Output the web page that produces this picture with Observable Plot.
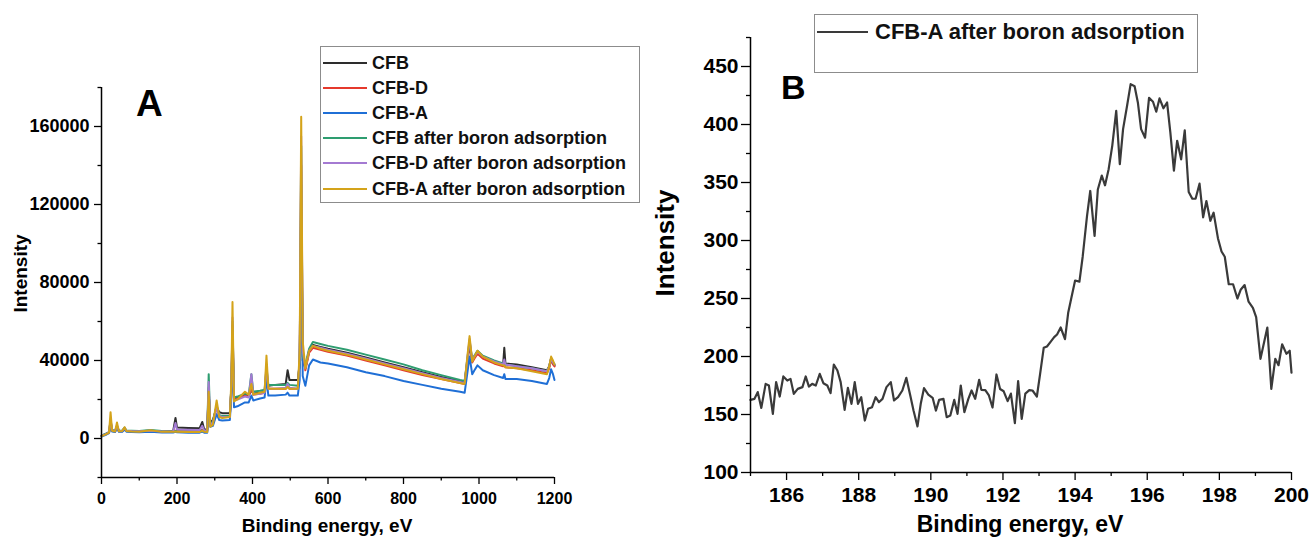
<!DOCTYPE html>
<html><head><meta charset="utf-8">
<script src="https://cdn.jsdelivr.net/npm/d3@7"></script>
<script src="https://cdn.jsdelivr.net/npm/@observablehq/plot@0.6"></script>
<style>
html,body{margin:0;padding:0;background:#fff;overflow:hidden;}
body{font-family:"Liberation Sans",Arial,sans-serif;}
#wrap{position:relative;width:1312px;height:539px;overflow:hidden;}
.panel{position:absolute;top:0;}
.legend{position:absolute;border:1px solid #8c8c8c;background:#fff;box-sizing:border-box;}
.sw{position:absolute;height:2px;}
.lt{position:absolute;font-weight:bold;color:#111;white-space:nowrap;}
.big{position:absolute;font-weight:bold;color:#000;line-height:1;}
</style></head>
<body>
<div id="wrap">
  <div id="pA" class="panel" style="left:0"></div>
  <div id="pB" class="panel" style="left:640px"></div>
  <div class="big" style="left:136px;top:85px;font-size:37px">A</div>
  <div class="big" style="left:781px;top:70px;font-size:34px">B</div>
  <div id="legA" class="legend" style="left:320px;top:46px;width:320px;height:157px"></div>
  <div id="legB" class="legend" style="left:814px;top:14px;width:384px;height:59px"></div>
</div>
<script>
// ---------- Panel A: survey spectra ----------
const seriesNames = ["CFB", "CFB-D", "CFB-A", "CFB after boron adsorption", "CFB-D after boron adsorption", "CFB-A after boron adsorption"];
const seriesColors = ["#2d2d2d", "#e5392c", "#1f6fd6", "#2e9d70", "#a47ad2", "#d4a31a"];

const energyA = [0, 10, 20, 24, 28, 36, 41, 46, 55, 61, 66, 80, 100, 130, 160, 190, 196, 200, 230, 260,
  267, 272, 280, 284, 288, 295, 305, 312, 320, 340, 344, 347, 351, 360, 380, 390, 397, 402, 420, 432,
  437, 442, 460, 488, 493, 498, 520, 525, 529, 533, 540, 550, 560, 580, 600, 650, 700, 750, 800, 850,
  900, 950, 962, 968, 975, 982, 988, 996, 1010, 1040, 1064, 1067, 1070, 1100, 1140, 1180, 1186, 1191, 1196, 1200];

const cfb = [1500, 2200, 3200, 8000, 4200, 3800, 6000, 3900, 3900, 5200, 4000, 3800, 3700, 4000, 3600, 4000, 10500, 5600, 5400, 5300,
  8500, 4800, 4600, 24000, 8000, 9500, 16000, 13500, 13000, 13000, 25000, 52000, 20500, 21000, 22500, 22000, 25000, 23000, 23500, 24000,
  32000, 27000, 27500, 28000, 35000, 30000, 30000, 38000, 120000, 40000, 36000, 45000, 48000, 47000, 46000, 44000, 41500, 39000, 36500, 34000,
  31500, 29500, 29000, 38000, 48000, 40000, 42000, 44500, 42000, 39500, 38000, 46500, 38500, 38000, 36500, 35000, 37000, 41000, 38500, 37500];

const cfbD = [1300, 2000, 3000, 9000, 4000, 3600, 6200, 3700, 3700, 5000, 3800, 3600, 3500, 3800, 3400, 3500, 4000, 3800, 3700, 3700,
  4500, 3800, 3700, 26000, 7000, 8000, 16500, 11500, 11000, 11500, 26000, 58000, 20000, 20500, 22000, 21500, 26000, 22500, 23000, 23500,
  35000, 25500, 25500, 25500, 27500, 25500, 25500, 40000, 140000, 45000, 35000, 44000, 46500, 45500, 44500, 42500, 40000, 37500, 35000, 32500,
  30500, 28500, 28000, 37000, 49000, 39000, 41000, 43500, 41000, 38500, 37000, 38000, 36500, 36000, 35000, 33500, 36000, 40500, 38000, 37000];

const cfbA = [1000, 1800, 2800, 7000, 3600, 3300, 5500, 3400, 3400, 4600, 3500, 3300, 3200, 3500, 3100, 3100, 3400, 3200, 3000, 3000,
  3500, 3000, 3000, 20000, 6000, 6500, 12500, 9500, 9200, 9500, 22000, 55000, 16000, 16500, 18500, 18500, 22000, 19500, 20500, 21000,
  31000, 22000, 22000, 22500, 23500, 22000, 22000, 30000, 130000, 32000, 27000, 37500, 40500, 39000, 38500, 36500, 34000, 32000, 29500, 27500,
  25500, 24000, 23500, 32000, 42000, 33000, 35000, 37500, 35000, 32500, 31000, 33000, 30500, 30500, 29500, 28000, 31000, 35500, 33000, 30000];

const cfbAfter = [1500, 2300, 3300, 9500, 4300, 3900, 6500, 4000, 4000, 5600, 4100, 4000, 3900, 4300, 3800, 3700, 3900, 3700, 3600, 3600,
  4200, 3700, 3700, 33000, 7500, 8500, 17000, 12000, 11500, 11500, 27000, 60000, 21000, 21500, 23000, 22500, 33000, 24000, 24500, 25000,
  36000, 27500, 27500, 27500, 28500, 27500, 27000, 40000, 150000, 42000, 38000, 46000, 49500, 48500, 47500, 45500, 43000, 40500, 38000, 35000,
  32500, 30000, 29500, 39000, 50000, 40500, 42500, 45000, 42500, 40000, 38500, 39000, 38000, 37000, 36000, 34500, 37000, 41000, 39000, 38000];

const cfbDAfter = [1400, 2100, 3100, 10000, 4200, 3800, 6800, 3900, 3900, 5400, 4000, 3800, 3700, 4000, 3600, 3700, 8000, 4600, 4500, 4400,
  6500, 4200, 4000, 29000, 7000, 8000, 16000, 11500, 11000, 11000, 27000, 62000, 19500, 20000, 21500, 21000, 33000, 22500, 23000, 23500,
  38000, 25500, 25500, 26000, 28000, 26000, 25500, 42000, 155000, 45000, 36000, 45000, 47500, 46500, 45500, 43500, 41000, 38500, 36000, 33500,
  31000, 29000, 28500, 39000, 51000, 40000, 42000, 44500, 42000, 39500, 38000, 40500, 38000, 37000, 36000, 34500, 37000, 41000, 39000, 38000];

const cfbAAfter = [1200, 2000, 3000, 13500, 4000, 3600, 8200, 3700, 3800, 5800, 3800, 3600, 3500, 4200, 3400, 3400, 3600, 3400, 3300, 3300,
  4000, 3400, 3300, 24000, 6000, 7000, 19500, 11000, 10500, 11000, 30000, 70000, 19000, 20000, 24000, 22500, 28000, 22500, 23500, 24000,
  42500, 25500, 25500, 25500, 26500, 25500, 25500, 45000, 165000, 50000, 36000, 45000, 47500, 46000, 45000, 43000, 40500, 38000, 35500, 33000,
  30500, 28500, 28000, 40000, 52500, 39500, 42000, 45000, 42000, 39000, 37500, 37500, 36500, 36000, 34500, 33000, 37000, 42000, 40000, 38000];

const xTicksA = [0, 200, 400, 600, 800, 1000, 1200];
const xMinorA = [100, 300, 500, 700, 900, 1100];
const yTicksA = [0, 40000, 80000, 120000, 160000];
const yMinorA = [-20000, 20000, 60000, 100000, 140000, 180000];

// ---------- Panel B: B 1s spectrum ----------
const bEnergy = [185.00,185.11,185.20,185.30,185.42,185.51,185.62,185.71,185.81,185.91,186.02,186.11,186.20,186.31,186.44,186.53,186.62,186.71,186.81,186.92,
  187.02,187.13,187.22,187.31,187.41,187.50,187.61,187.70,187.80,187.89,187.98,188.07,188.17,188.26,188.37,188.47,188.56,188.66,188.77,188.89,
  188.98,189.09,189.21,189.32,189.43,189.52,189.63,189.72,189.81,189.93,190.05,190.14,190.23,190.35,190.44,190.54,190.65,190.74,190.83,190.93,
  191.04,191.13,191.23,191.34,191.40,191.51,191.61,191.71,191.82,191.92,192.02,192.13,192.22,192.33,192.42,192.52,192.62,192.73,192.82,192.94,
  193.03,193.13,193.22,193.33,193.42,193.50,193.60,193.72,193.81,193.90,194.00,194.12,194.21,194.33,194.42,194.54,194.63,194.74,194.83,194.93,
  195.03,195.14,195.24,195.33,195.44,195.54,195.65,195.74,195.83,195.94,196.05,196.16,196.25,196.34,196.45,196.55,196.64,196.74,196.83,196.94,
  197.04,197.15,197.25,197.34,197.45,197.55,197.64,197.75,197.84,197.96,198.06,198.15,198.26,198.38,198.50,198.59,198.70,198.81,198.93,199.02,
  199.14,199.33,199.44,199.55,199.64,199.74,199.86,199.95,200.00];
const bIntensity = [162.6,163.5,169.3,155.7,176.4,175,150.6,177.9,165.5,182.8,179.3,180.7,167.8,172.1,173.6,182.8,174.1,176.4,175,185,
  177,175,168.4,193.1,187.9,177.9,154,173,159.2,177.9,159.2,164.9,144.8,154.9,156.3,164.9,160.6,163.5,173.6,177.9,
  162.1,164.9,170.7,181.6,166.4,153.4,139.7,159.2,172.7,167.2,164.4,153.4,162.6,163.5,147.7,149.1,162.6,150.6,175,152,
  163.5,170.7,163.5,179.9,171.3,171,166.4,156,184.5,172,170,161.5,168,142.5,178.7,146.3,168,171,170.7,165.5,
  185,207.5,208.6,213,216.7,219,225,215,238,251,265.5,264.5,286,321,342.7,303.9,344,356,347.6,361.5,
  381.6,411.8,365.8,396,416,434.8,433,419,396,388.6,423,419.6,411,422.5,414,419,393.4,360.3,386,370,
  395,341.8,336,336,349,320,334,317,324,302,290.5,286,262.3,262.3,250,257.5,261.6,247.3,242,234,
  198,225,172,198,192.5,210.5,202.3,205,186];
const bSeriesName = "CFB-A after boron adsorption";
const xTicksB = [186, 188, 190, 192, 194, 196, 198, 200];
const xMinorB = [185, 187, 189, 191, 193, 195, 197, 199];
const yTicksB = [100, 150, 200, 250, 300, 350, 400, 450];
const yMinorB = [125, 175, 225, 275, 325, 375, 425, 475];

// ---------- build ----------
const FONT = '"Liberation Sans", Arial, Helvetica, sans-serif';
const seriesValues = [cfb, cfbD, cfbA, cfbAfter, cfbDAfter, cfbAAfter];
const tablesA = seriesValues.map(vals => vals.map((v, i) => ({e: energyA[i], v})));
const tickStyle = {stroke: "#000", strokeWidth: 1.3, label: null};

const plotA = Plot.plot({
  width: 640, height: 539,
  marginLeft: 101, marginRight: 86, marginTop: 87, marginBottom: 62,
  x: {domain: [0, 1200]},
  y: {domain: [-20000, 180000]},
  style: {fontFamily: FONT, fontWeight: "bold", color: "#000", background: "transparent", overflow: "visible"},
  marks: [
    Plot.axisX(xMinorA, {...tickStyle, tickSize: 3.5, tickFormat: () => ""}),
    Plot.axisX(xTicksA, {...tickStyle, tickSize: 7, tickPadding: 8, fontSize: 16, fontWeight: "bold", fill: "#000", tickFormat: d => String(d)}),
    Plot.axisY(yMinorA, {...tickStyle, tickSize: 3.5, tickFormat: () => ""}),
    Plot.axisY(yTicksA, {...tickStyle, tickSize: 7, tickPadding: 5, fontSize: 18, fontWeight: "bold", fill: "#000", tickFormat: d => String(d)}),
    ...tablesA.map((t, k) => Plot.line(t, {x: "e", y: "v", stroke: seriesColors[k], strokeWidth: 2, strokeLinejoin: "round"})),
    Plot.ruleX([0], {stroke: "#000", strokeWidth: 1.5}),
    Plot.ruleY([-20000], {stroke: "#000", strokeWidth: 1.5}),
    Plot.text(["Intensity"], {frameAnchor: "left", textAnchor: "middle", lineAnchor: "middle", dx: -81, dy: -9, rotate: -90, fontSize: 19, fontWeight: "bold", fill: "#000"}),
    Plot.text(["Binding energy, eV"], {frameAnchor: "bottom", textAnchor: "middle", lineAnchor: "middle", dx: -1, dy: 48, fontSize: 19, fontWeight: "bold", fill: "#000"})
  ]
});
document.getElementById("pA").appendChild(plotA);

const tableB = bEnergy.map((e, i) => ({e, v: bIntensity[i]}));
const plotB = Plot.plot({
  width: 672, height: 539,
  marginLeft: 110, marginRight: 21, marginTop: 37, marginBottom: 67,
  x: {domain: [185, 200]},
  y: {domain: [100, 475]},
  style: {fontFamily: FONT, fontWeight: "bold", color: "#000", background: "transparent", overflow: "visible"},
  marks: [
    Plot.axisX(xMinorB, {...tickStyle, tickSize: 4, tickFormat: () => ""}),
    Plot.axisX(xTicksB, {...tickStyle, tickSize: 8, tickPadding: 7, fontSize: 21, fontWeight: "bold", fill: "#000", tickFormat: d => String(d)}),
    Plot.axisY(yMinorB, {...tickStyle, tickSize: 4, tickFormat: () => ""}),
    Plot.axisY(yTicksB, {...tickStyle, tickSize: 9, tickPadding: 3, fontSize: 21, fontWeight: "bold", fill: "#000", tickFormat: d => String(d)}),
    Plot.line(tableB, {x: "e", y: "v", stroke: "#3a3a3a", strokeWidth: 2.2, strokeLinejoin: "round"}),
    Plot.ruleX([185], {stroke: "#000", strokeWidth: 1.5}),
    Plot.ruleY([100], {stroke: "#000", strokeWidth: 1.5}),
    Plot.text(["Intensity"], {frameAnchor: "left", textAnchor: "middle", lineAnchor: "middle", dx: -85, dy: -12, rotate: -90, fontSize: 26, fontWeight: "bold", fill: "#000"}),
    Plot.text(["Binding energy, eV"], {frameAnchor: "bottom", textAnchor: "middle", lineAnchor: "middle", dx: -1, dy: 52, fontSize: 23, fontWeight: "bold", fill: "#000"})
  ]
});
document.getElementById("pB").appendChild(plotB);

// ---------- legends ----------
const legA = document.getElementById("legA");
const rowCentersA = [16, 41, 66, 91, 116, 142];
seriesNames.forEach((name, k) => {
  const sw = document.createElement("div");
  sw.className = "sw";
  sw.style.cssText = `left:2px;width:44px;top:${rowCentersA[k] - 1}px;background:${seriesColors[k]}`;
  legA.appendChild(sw);
  const t = document.createElement("div");
  t.className = "lt";
  t.style.cssText = `left:51px;top:${rowCentersA[k] - 10}px;font-size:18px;line-height:20px`;
  t.textContent = name;
  legA.appendChild(t);
});
const legB = document.getElementById("legB");
{
  const sw = document.createElement("div");
  sw.className = "sw";
  sw.style.cssText = "left:2px;width:51px;top:16px;background:#3a3a3a";
  legB.appendChild(sw);
  const t = document.createElement("div");
  t.className = "lt";
  t.style.cssText = "left:60px;top:4px;font-size:22px;line-height:26px";
  t.textContent = bSeriesName;
  legB.appendChild(t);
}
</script>
</body></html>
